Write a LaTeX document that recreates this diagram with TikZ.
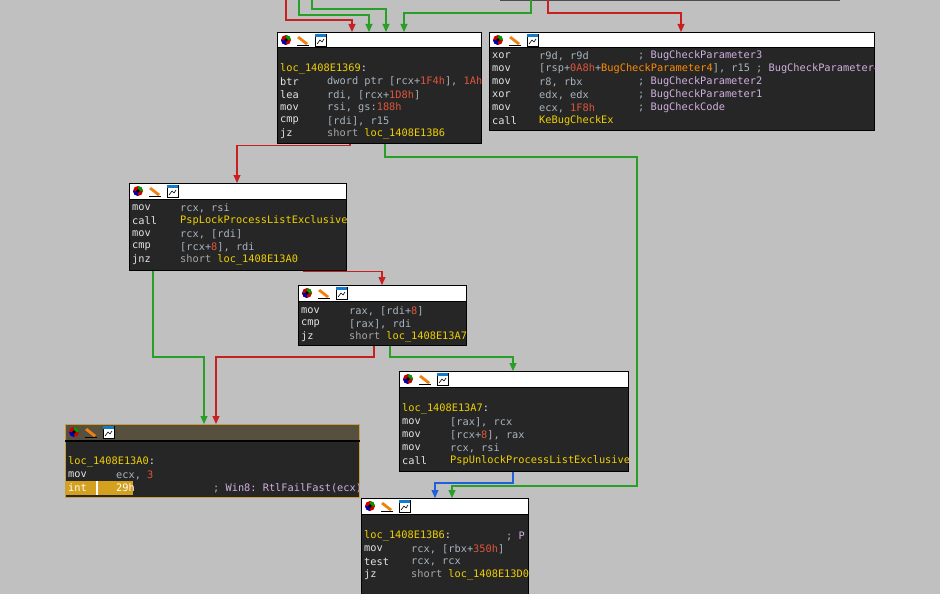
\documentclass[tikz,border=0pt]{standalone}
\usepackage{fontspec}
\setmonofont{DejaVu Sans Mono}
\usetikzlibrary{arrows.meta}
\definecolor{bgc}{HTML}{C0C0C0}
\definecolor{body}{HTML}{262626}
\definecolor{mn}{HTML}{E4E4E4}
\definecolor{rg}{HTML}{A8B4C0}
\definecolor{nm}{HTML}{E0553A}
\definecolor{yl}{HTML}{F0D000}
\definecolor{cm}{HTML}{D0B0E0}
\definecolor{sh}{HTML}{A8A8A8}
\definecolor{er}{HTML}{C82020}
\definecolor{eg}{HTML}{28A028}
\definecolor{eb}{HTML}{2060D8}
\definecolor{orb}{HTML}{C8A040}
\definecolor{hilite}{HTML}{D4A020}
\newcommand\Rg[1]{\textcolor{rg}{#1}}
\newcommand\Nm[1]{\textcolor{nm}{#1}}
\newcommand\Yl[1]{\textcolor{yl}{#1}}
\newcommand\Cm[1]{\textcolor{cm}{#1}}
\newcommand\Sh[1]{\textcolor{sh}{#1}}
\tikzset{
  blk/.style={draw=black,fill=body,line width=0.8pt,anchor=north west,inner sep=0pt},
  hdr/.style={fill=white,draw=black,line width=0.8pt},
  txt/.style={anchor=west,inner sep=0pt,text=mn,font=\fontsize{10.3}{13}\ttfamily},
  redE/.style={draw=er,line width=1.1pt},
  grnE/.style={draw=eg,line width=1.1pt},
  bluE/.style={draw=eb,line width=1.1pt},
  tip/.style={-{Triangle[width=7pt,length=8pt]}}
}
\newcommand\icons[2]{%
  \fill[red!80!black] (#1+9,#2+8) circle (5);
  \fill[green!60!black] (#1+9,#2+8) -- ++(5,0) arc (0:-90:5) -- cycle;
  \fill[blue!70!black] (#1+9,#2+8) -- ++(0,5) arc (90:180:5) -- cycle;
  \fill[black] (#1+9,#2+8) circle (1.8);
  \fill[orange!80!brown] (#1+22,#2+4) -- (#1+31,#2+11) -- (#1+29,#2+13) -- (#1+20,#2+6) -- cycle;
  \draw[black,line width=0.8pt] (#1+20,#2+13) -- (#1+32,#2+13);
  \fill[white] (#1+38,#2+2) rectangle (#1+49,#2+14);
  \draw[black,line width=0.6pt] (#1+38,#2+2) rectangle (#1+49,#2+14);
  \fill[cyan!60!blue] (#1+38,#2+2) rectangle (#1+49,#2+5);
  \draw[black,line width=0.6pt] (#1+40,#2+12) -- (#1+43,#2+8) -- (#1+45,#2+10) -- (#1+47,#2+7);
}
\begin{document}
\begin{tikzpicture}[x=1pt,y=-1pt]
\fill[bgc] (0,0) rectangle (940,594);
\useasboundingbox (0,0) rectangle (940,594);
% partial top block
\draw[black!70,line width=1pt] (500,1) -- (840,1);
% blocks
\node[blk,minimum width=204pt,minimum height=111pt] (b1) at (277,32) {};
\node[blk,minimum width=385pt,minimum height=98pt] (b2) at (489,32) {};
\node[blk,minimum width=217pt,minimum height=87pt] (b3) at (129,183) {};
\node[blk,minimum width=168pt,minimum height=60pt] (b4) at (298,285) {};
\node[blk,minimum width=229pt,minimum height=100pt] (b5) at (399,371) {};
\node[blk,draw=orb,minimum width=294pt,minimum height=73pt] (b6) at (65,424) {};
\node[blk,minimum width=167pt,minimum height=110pt] (b7) at (361,498) {};
% headers
\draw[hdr] (277,32) rectangle (481,47);
\draw[hdr] (489,32) rectangle (874,47);
\draw[hdr] (129,183) rectangle (346,199);
\draw[hdr] (298,285) rectangle (466,301);
\draw[hdr] (399,371) rectangle (628,387);
\draw[fill=black!70!orb!60!gray,draw=orb,line width=0.8pt] (65,424) rectangle (359,440);
\draw[fill=black!80!gray] (65,440) rectangle (359,441);
\draw[hdr] (361,498) rectangle (528,514);
\icons{277}{32}\icons{489}{32}\icons{129}{183}\icons{298}{285}\icons{399}{371}\icons{65}{424}\icons{361}{498}
% B1
\node[txt] (b1a) at (280,69) {\Yl{loc\_1408E1369}:};
\node[txt] (b1b) at (280,82) {btr}; \node[txt] (b1bo) at (327,82) {\Rg{dword ptr [rcx+}\Nm{1F4h}\Rg{],} \Nm{1Ah}};
\node[txt] (b1c) at (280,95) {lea}; \node[txt] (b1co) at (327,95) {\Rg{rdi, [rcx+}\Nm{1D8h}\Rg{]}};
\node[txt] (b1d) at (280,108) {mov}; \node[txt] (b1do) at (327,108) {\Rg{rsi, gs:}\Nm{188h}};
\node[txt] (b1e) at (280,121) {cmp}; \node[txt] (b1eo) at (327,121) {\Rg{[rdi], r15}};
\node[txt] (b1f) at (280,134) {jz}; \node[txt] (b1fo) at (327,134) {\Sh{short} \Yl{loc\_1408E13B6}};
% B2
\node[txt] (b2a) at (492,56) {xor}; \node[txt] (b2ao) at (539,56) {\Rg{r9d, r9d}};
\node[txt] (b2b) at (492,69) {mov}; \node[txt] (b2bo) at (539,69) {\Rg{[rsp+}\Nm{0A8h}\Rg{+}\textcolor{orange!90!yellow}{BugCheckParameter4}\Rg{], r15} \Rg{;} \Cm{BugCheckParameter4}};
\node[txt] (b2c) at (492,82) {mov}; \node[txt] (b2co) at (539,82) {\Rg{r8, rbx}};
\node[txt] (b2d) at (492,95) {xor}; \node[txt] (b2do) at (539,95) {\Rg{edx, edx}};
\node[txt] (b2e) at (492,108) {mov}; \node[txt] (b2eo) at (539,108) {\Rg{ecx,} \Nm{1F8h}};
\node[txt] (b2f) at (492,121) {call}; \node[txt] (b2fo) at (539,121) {\Yl{KeBugCheckEx}};
\node[txt] (b2ac) at (638,56) {\Rg{;} \Cm{BugCheckParameter3}};
\node[txt] (b2cc) at (638,82) {\Rg{;} \Cm{BugCheckParameter2}};
\node[txt] (b2dc) at (638,95) {\Rg{;} \Cm{BugCheckParameter1}};
\node[txt] (b2ec) at (638,108) {\Rg{;} \Cm{BugCheckCode}};
% B3
\node[txt] (b3a) at (132,208) {mov}; \node[txt] (b3ao) at (180,208) {\Rg{rcx, rsi}};
\node[txt] (b3b) at (132,221) {call}; \node[txt] (b3bo) at (180,221) {\Yl{PspLockProcessListExclusive}};
\node[txt] (b3c) at (132,234) {mov}; \node[txt] (b3co) at (180,234) {\Rg{rcx, [rdi]}};
\node[txt] (b3d) at (132,247) {cmp}; \node[txt] (b3do) at (180,247) {\Rg{[rcx+}\Nm{8}\Rg{], rdi}};
\node[txt] (b3e) at (132,260) {jnz}; \node[txt] (b3eo) at (180,260) {\Sh{short} \Yl{loc\_1408E13A0}};
% B4
\node[txt] (b4a) at (301,311) {mov}; \node[txt] (b4ao) at (349,311) {\Rg{rax, [rdi+}\Nm{8}\Rg{]}};
\node[txt] (b4b) at (301,324) {cmp}; \node[txt] (b4bo) at (349,324) {\Rg{[rax], rdi}};
\node[txt] (b4c) at (301,337) {jz}; \node[txt] (b4co) at (349,337) {\Sh{short} \Yl{loc\_1408E13A7}};
% B5
\node[txt] (b5a) at (402,409) {\Yl{loc\_1408E13A7}:};
\node[txt] (b5b) at (402,422) {mov}; \node[txt] (b5bo) at (450,422) {\Rg{[rax], rcx}};
\node[txt] (b5c) at (402,435) {mov}; \node[txt] (b5co) at (450,435) {\Rg{[rcx+}\Nm{8}\Rg{], rax}};
\node[txt] (b5d) at (402,448) {mov}; \node[txt] (b5do) at (450,448) {\Rg{rcx, rsi}};
\node[txt] (b5e) at (402,461) {call}; \node[txt] (b5eo) at (450,461) {\Yl{PspUnlockProcessListExclusive}};
% B6
\fill[hilite] (66,481) rectangle (133,495);
\fill[white] (96,481) rectangle (98,495);
\node[txt] (b6a) at (68,462) {\Yl{loc\_1408E13A0}:};
\node[txt] (b6b) at (68,475) {mov}; \node[txt] (b6bo) at (116,475) {\Rg{ecx,} \Nm{3}};
\node[txt,text=white] (b6c) at (68,488) {int}; \node[txt,text=white] (b6co) at (116,488) {29h};
\node[txt] (b6cc) at (213,488) {\Rg{;} \Cm{Win8: RtlFailFast(ecx)}};
% B7
\node[txt] (b7a) at (364,536) {\Yl{loc\_1408E13B6}:};
\node[txt] (b7ac) at (506,536) {\Rg{;} \Cm{P}};
\node[txt] (b7b) at (364,549) {mov}; \node[txt] (b7bo) at (411,549) {\Rg{rcx, [rbx+}\Nm{350h}\Rg{]}};
\node[txt] (b7c) at (364,562) {test}; \node[txt] (b7co) at (411,562) {\Rg{rcx, rcx}};
\node[txt] (b7d) at (364,575) {jz}; \node[txt] (b7do) at (411,575) {\Sh{short} \Yl{loc\_1408E13D0}};
% top incoming edges
\coordinate (t1) at (286,0); \coordinate (t2) at (299,0); \coordinate (t3) at (312,0);
\coordinate (t4) at (531,0); \coordinate (t5) at (548,0);
\draw[redE,tip] (t1) |- (352,20) -- ([xshift=75]b1.north west);
\draw[grnE,tip] (t2) |- (369,15) -- ([xshift=92]b1.north west);
\draw[grnE,tip] (t3) |- (386,9) -- ([xshift=109]b1.north west);
\draw[grnE,tip] (t4) |- (404,13) -- ([xshift=127]b1.north west);
\draw[redE,tip] (t5) |- (681,13) -- ([xshift=192]b2.north west);
% internal edges
\draw[redE,tip] ([xshift=73]b1.south west) -- ++(0,2) -| ([xshift=108]b3.north west);
\draw[grnE,tip] ([xshift=108]b1.south west) |- (637,157) |- (452,486) -- ([xshift=91]b7.north west);
\draw[redE,tip] ([xshift=175]b3.south west) -- ++(0,1) -| ([xshift=84]b4.north west);
\draw[grnE,tip] ([xshift=24]b3.south west) |- (204,357) -- ([xshift=139]b6.north west);
\draw[redE,tip] ([xshift=76]b4.south west) |- (216,357) -- ([xshift=151]b6.north west);
\draw[grnE,tip] ([xshift=92]b4.south west) |- (513,357) -- ([xshift=114]b5.north west);
\draw[bluE,tip] ([xshift=114]b5.south west) |- (435,483) -- ([xshift=74]b7.north west);
\draw[redE] ([xshift=74]b7.south west) -- (435,594);
\draw[grnE] ([xshift=91]b7.south west) -- (452,594);
\end{tikzpicture}
\end{document}
